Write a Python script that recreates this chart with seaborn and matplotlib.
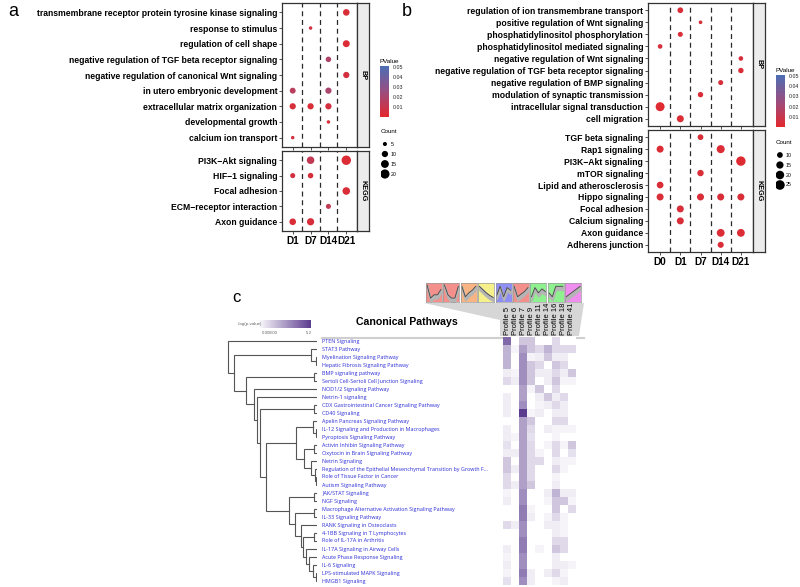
import numpy as np
import pandas as pd
import matplotlib
matplotlib.use("Agg")
import matplotlib.pyplot as plt
import seaborn as sns
from matplotlib.colors import LinearSegmentedColormap, Normalize
from matplotlib.cm import ScalarMappable
from matplotlib.patches import Polygon
from matplotlib.transforms import blended_transform_factory

# ---------------- data: panel a ----------------
a_days = ["D1", "D7", "D14", "D21"]
a_bp_terms = ["transmembrane receptor protein tyrosine kinase signaling", "response to stimulus",
              "regulation of cell shape", "negative regulation of TGF beta receptor signaling",
              "negative regulation of canonical Wnt signaling", "in utero embryonic development",
              "extracellular matrix organization", "developmental growth", "calcium ion transport"]
a_kegg_terms = ["PI3K\u2212Akt signaling", "HIF\u22121 signaling", "Focal adhesion",
                "ECM\u2212receptor interaction", "Axon guidance"]
a_term = [a_bp_terms[0], a_bp_terms[1], a_bp_terms[2], a_bp_terms[3], a_bp_terms[4],
          a_bp_terms[5], a_bp_terms[5], a_bp_terms[6], a_bp_terms[6], a_bp_terms[6],
          a_bp_terms[7], a_bp_terms[8],
          a_kegg_terms[0], a_kegg_terms[0], a_kegg_terms[1], a_kegg_terms[1], a_kegg_terms[2],
          a_kegg_terms[3], a_kegg_terms[4], a_kegg_terms[4]]
a_day = ["D21", "D7", "D21", "D14", "D21", "D1", "D14", "D1", "D7", "D14", "D14", "D1",
         "D7", "D21", "D1", "D7", "D21", "D14", "D1", "D7"]
a_count = [11, 4, 12, 8, 10, 9, 10, 10, 10, 10, 4, 4, 14, 21, 7, 8, 14, 7, 11, 13]
a_pval = [0.004, 0.006, 0.003, 0.018, 0.006, 0.015, 0.02, 0.005, 0.004, 0.006, 0.004, 0.006,
          0.012, 0.003, 0.006, 0.005, 0.004, 0.012, 0.004, 0.005]
a_count_breaks = [5, 10, 15, 20]

# ---------------- data: panel b ----------------
b_days = ["D0", "D1", "D7", "D14", "D21"]
b_bp_terms = ["regulation of ion transmembrane transport", "positive regulation of Wnt signaling",
              "phosphatidylinositol phosphorylation", "phosphatidylinositol mediated signaling",
              "negative regulation of Wnt signaling", "negative regulation of TGF beta receptor signaling",
              "negative regulation of BMP signaling", "modulation of synaptic transmission",
              "intracellular signal transduction", "cell migration"]
b_kegg_terms = ["TGF beta signaling", "Rap1 signaling", "PI3K\u2212Akt signaling", "mTOR signaling",
                "Lipid and atherosclerosis", "Hippo signaling", "Focal adhesion", "Calcium signaling",
                "Axon guidance", "Adherens junction"]
b_term = b_bp_terms + [b_kegg_terms[0], b_kegg_terms[1], b_kegg_terms[1], b_kegg_terms[2],
                       b_kegg_terms[3], b_kegg_terms[4], b_kegg_terms[5], b_kegg_terms[5],
                       b_kegg_terms[5], b_kegg_terms[5], b_kegg_terms[6], b_kegg_terms[7],
                       b_kegg_terms[8], b_kegg_terms[8], b_kegg_terms[9]]
b_day = ["D1", "D7", "D1", "D0", "D21", "D21", "D14", "D7", "D0", "D1",
         "D7", "D0", "D14", "D21", "D7", "D0", "D0", "D7", "D14", "D21", "D1", "D1", "D14", "D21", "D14"]
b_count = [10, 5, 8, 7, 7, 9, 8, 9, 22, 14,
           10, 14, 18, 24, 12, 13, 14, 14, 14, 14, 14, 14, 17, 17, 11]
b_pval = [0.004, 0.005, 0.004, 0.005, 0.005, 0.004, 0.005, 0.004, 0.002, 0.003,
          0.004, 0.003, 0.003, 0.002, 0.004, 0.004, 0.004, 0.004, 0.004, 0.004, 0.004, 0.004,
          0.003, 0.003, 0.004]
b_count_breaks = [10, 15, 20, 25]

# ---------------- data: panel c ----------------
profiles = ["Profile 5", "Profile 6", "Profile 7", "Profile 9", "Profile 11",
            "Profile 14", "Profile 16", "Profile 18", "Profile 41"]
profile_colors = ["#f4908c", "#f4908c", "#f8b583", "#f5f08a", "#8e8ef4",
                  "#f4908c", "#8ef08e", "#8ef08e", "#f08ef0"]
profile_shapes = [[1, -1, -0.5, -0.5, 0.3], [1, -0.5, -1, -1, 0.8], [0.8, -0.8, -0.2, 0.2, 0.8],
                  [0.8, 0.3, -0.2, -0.6, -0.9], [-0.6, 0.8, -0.8, 0.6, 0.2], [0.8, -0.8, -0.4, 0.0, 0.6],
                  [-0.8, 0.6, -0.2, 0.4, 0.0], [-0.2, -0.8, 0.8, 0.8, 0.8], [-0.8, -0.4, 0.0, 0.4, 0.8]]
pathways = ["PTEN Signaling", "STAT3 Pathway", "Myelination Signaling Pathway",
            "Hepatic Fibrosis Signaling Pathway", "BMP signaling pathway",
            "Sertoli Cell-Sertoli Cell Junction Signaling", "NOD1/2 Signaling Pathway",
            "Netrin-1 signaling", "CDX Gastrointestinal Cancer Signaling Pathway", "CD40 Signaling",
            "Apelin Pancreas Signaling Pathway", "IL-12 Signaling and Production in Macrophages",
            "Pyroptosis Signaling Pathway", "Activin Inhibin Signaling Pathway",
            "Oxytocin in Brain Signaling Pathway", "Netrin Signaling",
            "Regulation of the Epithelial Mesenchymal Transition by Growth F...",
            "Role of Tissue Factor in Cancer", "Autism Signaling Pathway", "JAK/STAT Signaling",
            "NGF Signaling", "Macrophage Alternative Activation Signaling Pathway",
            "IL-33 Signaling Pathway", "RANK Signaling in Osteoclasts", "4-1BB Signaling in T Lymphocytes",
            "Role of IL-17A in Arthritis", "IL-17A Signaling in Airway Cells",
            "Acute Phase Response Signaling", "IL-6 Signaling", "LPS-stimulated MAPK Signaling",
            "HMGB1 Signaling"]
logp = [
    [4.0, 0.0, 1.5, 1.5, 0.0, 0.0, 1.0, 0.0, 0.0],
    [2.0, 0.3, 2.5, 1.5, 1.0, 2.0, 1.0, 1.0, 1.0],
    [2.0, 0.0, 3.0, 0.3, 0.5, 1.5, 0.5, 0.5, 0.0],
    [2.0, 0.0, 3.0, 1.5, 1.0, 0.0, 1.5, 1.0, 0.0],
    [0.5, 0.3, 3.0, 1.5, 0.5, 0.5, 1.0, 0.5, 1.5],
    [1.0, 0.5, 3.0, 1.5, 0.0, 0.5, 1.5, 0.3, 0.3],
    [0.0, 0.0, 2.5, 0.3, 1.5, 0.0, 1.0, 0.0, 0.0],
    [0.5, 0.0, 2.5, 0.0, 0.5, 1.5, 0.5, 1.0, 0.0],
    [0.5, 0.0, 3.0, 0.0, 0.3, 0.5, 1.0, 0.5, 0.0],
    [0.5, 0.0, 5.2, 0.3, 0.5, 0.0, 0.5, 0.5, 0.0],
    [0.0, 0.0, 2.5, 1.5, 0.0, 0.0, 1.0, 1.0, 0.0],
    [0.5, 0.0, 2.5, 1.0, 0.0, 0.5, 0.3, 0.3, 0.3],
    [0.5, 0.3, 2.5, 0.8, 0.0, 0.0, 0.3, 0.0, 0.0],
    [0.8, 0.0, 2.5, 1.0, 0.0, 0.3, 1.0, 0.3, 1.5],
    [0.5, 0.5, 2.5, 1.0, 0.3, 0.0, 1.0, 0.0, 0.8],
    [1.5, 0.0, 2.5, 1.0, 1.0, 0.0, 0.5, 0.3, 0.3],
    [1.5, 0.5, 2.5, 1.0, 0.0, 0.0, 1.0, 0.3, 0.0],
    [1.0, 0.0, 2.5, 1.0, 0.0, 0.0, 0.3, 0.0, 0.0],
    [1.0, 0.5, 2.5, 1.5, 0.0, 0.0, 0.5, 0.0, 0.0],
    [0.3, 0.0, 3.0, 0.0, 0.0, 0.5, 2.0, 0.5, 0.5],
    [0.5, 0.0, 3.0, 0.0, 0.0, 0.3, 1.5, 1.5, 0.3],
    [0.0, 0.0, 3.5, 0.3, 0.0, 0.0, 1.5, 0.0, 1.0],
    [0.0, 0.0, 3.5, 0.5, 0.0, 0.3, 1.0, 0.3, 0.0],
    [1.0, 0.5, 3.0, 0.0, 0.0, 0.5, 0.5, 0.3, 0.0],
    [0.0, 0.0, 3.0, 0.0, 0.0, 0.0, 0.5, 0.3, 0.0],
    [0.0, 0.0, 3.5, 0.0, 0.0, 0.0, 1.0, 1.0, 0.0],
    [0.5, 0.0, 3.5, 0.0, 0.3, 0.0, 1.5, 1.0, 0.0],
    [0.3, 0.0, 3.0, 0.0, 0.0, 0.0, 0.5, 0.0, 0.0],
    [0.5, 0.0, 3.0, 0.0, 0.0, 0.0, 0.5, 0.5, 0.3],
    [0.3, 0.0, 3.5, 0.5, 0.0, 0.5, 1.0, 0.3, 0.0],
    [0.8, 0.0, 3.0, 0.5, 0.0, 0.0, 0.3, 0.5, 0.0],
]
# dendrogram: leaves are row indices, nodes are [height, left, right]
tree = [88.7, 0,
        [82.7, [6, 1, [1, 2, 3]],
         [71, [2.7, 4, 5],
          [62.7, 6,
           [60, 7,
            [56.7, [2.7, 8, 9],
             [50.3,
              [21, [4.3, 10, [1, 11, 12]],
               [12.7, [2.7, 13, 14], [6, 15, [1.5, 16, [0.7, 17, 18]]]]],
              [27.7, [2.7, 19, 20],
               [22, [2.7, 21, 22],
                [16, 23,
                 [14, [2.7, 24, 25],
                  [11, 26,
                   [8, 27,
                    [4.3, 28, [1, 29, 30]]]]]]]]]]]]]]]

# ---------------- figure ----------------
W, H = 800, 587
fig = plt.figure(figsize=(8, 5.87), dpi=100)
plt.rcParams["font.family"] = ["Liberation Sans", "DejaVu Sans"]


def box(x0, y0, x1, y1):
    return [x0 / W, 1 - y1 / H, (x1 - x0) / W, (y1 - y0) / H]


pcmap = LinearSegmentedColormap.from_list("pv", ["#e3282c", "#9a4d80", "#4b6fb4"])
pnorm = Normalize(0.0003, 0.0505)


def dotplot(days, bp_terms, kegg_terms, terms, pdays, counts, pvals, xl, xr, y_bp, y_kegg,
            size_norm, sizes, fs):
    df = pd.DataFrame({"term": terms, "day": pdays, "count": counts, "pvalue": pvals})
    df["x"] = [days.index(d) for d in df["day"]]
    axes = []
    for facet_terms, (y0, y1), strip in [(bp_terms, y_bp, "BP"), (kegg_terms, y_kegg, "KEGG")]:
        ax = fig.add_axes(box(xl, y0, xr, y1))
        sub = df[df["term"].isin(facet_terms)].copy()
        sub["y"] = [facet_terms.index(t) for t in sub["term"]]
        for k in range(len(days) - 1):
            ax.axvline(k + 0.5, color="#2a2a2a", ls=(0, (4, 3)), lw=0.9, zorder=1)
        sns.scatterplot(data=sub, x="x", y="y", hue="pvalue", size="count", palette=pcmap,
                        hue_norm=pnorm, sizes=sizes, size_norm=size_norm, legend=False,
                        linewidth=0, ax=ax, zorder=3)
        ax.set_xlim(-0.6, len(days) - 0.4)
        ax.set_ylim(len(facet_terms) - 0.4, -0.6)
        ax.set_yticks(range(len(facet_terms)))
        ax.set_yticklabels(facet_terms, fontweight="bold", fontsize=fs)
        ax.set_xticks(range(len(days)))
        ax.set_xticklabels([])
        ax.set_xlabel("")
        ax.set_ylabel("")
        ax.tick_params(length=2, width=0.6, pad=1.5, colors="#333333", labelcolor="black")
        for s in ax.spines.values():
            s.set_color("#333333")
            s.set_linewidth(0.9)
        sax = fig.add_axes(box(xr, y0, xr + 12, y1))
        sax.set_facecolor("#ececec")
        sax.set_xticks([])
        sax.set_yticks([])
        for s in sax.spines.values():
            s.set_color("#333333")
            s.set_linewidth(0.9)
        sax.text(0.5, 0.5, strip, rotation=-90, ha="center", va="center", fontsize=5.2,
                 fontweight="bold", transform=sax.transAxes)
        axes.append(ax)
    axes[-1].set_xticklabels(days, fontweight="bold", fontsize=7.2)
    return axes


def pvalue_legend(x, y0, y1):
    cax = fig.add_axes(box(x, y0, x + 9, y1))
    cb = fig.colorbar(ScalarMappable(norm=pnorm, cmap=pcmap), cax=cax)
    cb.set_ticks([0.01, 0.02, 0.03, 0.04, 0.05])
    cb.ax.tick_params(labelsize=3.8, length=1.5, width=0.5, pad=1, colors="white", labelcolor="#222222")
    cb.outline.set_visible(False)
    cax.text(0, 1.04, "PValue", transform=cax.transAxes, fontsize=4.5, va="bottom")


def count_legend(breaks, x, y0, y1, size_norm, sizes):
    lax = fig.add_axes(box(x, y0, x + 30, y1))
    ldf = pd.DataFrame({"x": [0] * len(breaks), "y": range(len(breaks)), "count": breaks})
    sns.scatterplot(data=ldf, x="x", y="y", size="count", sizes=sizes, size_norm=size_norm,
                    color="black", linewidth=0, legend=False, ax=lax)
    for i, b in enumerate(breaks):
        lax.text(0.9, i, str(b), fontsize=3.8, va="center")
    lax.set_xlim(-0.6, 4)
    lax.set_ylim(len(breaks) - 0.5, -1.6)
    lax.text(-0.6, -1.5, "Count", fontsize=4.5, va="top")
    lax.axis("off")


# panel a
a_sizes, a_norm = (6.3, 46), (4, 21)
dotplot(a_days, a_bp_terms, a_kegg_terms, a_term, a_day, a_count, a_pval,
        282, 357, (3, 147), (151, 231), a_norm, a_sizes, 6.2)
pvalue_legend(380, 66, 117)
count_legend(a_count_breaks, 381, 128, 179, a_norm, a_sizes)
fig.text(8 / W, 1 - 16 / H, "a", fontsize=13)

# panel b
b_sizes, b_norm = (7, 52), (5, 27)
dotplot(b_days, b_bp_terms, b_kegg_terms, b_term, b_day, b_count, b_pval,
        648, 753, (3, 126), (130, 252), b_norm, b_sizes, 6.2)
pvalue_legend(776, 75, 127)
count_legend(b_count_breaks, 776, 139, 190, b_norm, b_sizes)
fig.text(402 / W, 1 - 16 / H, "b", fontsize=13)

# panel c
fig.text(232 / W, 1 - 302 / H, "c", fontsize=12)
hcmap = LinearSegmentedColormap.from_list("lp", ["#ffffff", "#5b3b8e"])
hx0, hx1, hy0, hy1 = 503, 576, 337, 585
hax = fig.add_axes(box(hx0, hy0, hx1, hy1))
hdf = pd.DataFrame(logp, index=pathways, columns=profiles)
sns.heatmap(hdf, cmap=hcmap, vmin=0, vmax=5.2, cbar=False, ax=hax)
hax.set_yticks([])
hax.set_ylabel("")
hax.xaxis.tick_top()
hax.set_xticks(np.arange(len(profiles)) + 0.5)
hax.set_xticklabels(profiles, rotation=90, fontsize=5.5)
hax.tick_params(axis="x", length=0, pad=1.5)
tr = blended_transform_factory(hax.transAxes, hax.transData)
for i, p in enumerate(pathways):
    hax.text((322 - hx0) / (hx1 - hx0), i + 0.5, p, transform=tr, fontsize=3.9,
             color="#2b2bd6", va="center", ha="left", family=["Open Sans", "DejaVu Sans"])

# gray funnel and title line
fax = fig.add_axes([0, 0, 1, 1], zorder=-1)
fax.set_xlim(0, W)
fax.set_ylim(H, 0)
fax.axis("off")
fax.add_patch(Polygon([(424, 303), (584, 303), (579, 336), (500, 336), (500, 320)],
                      closed=True, facecolor="#d6d6d6", edgecolor="none"))
fax.plot([322, 584], [338, 338], color="#cfcfcf", lw=1.5)
fig.text(407 / W, 1 - 322 / H, "Canonical Pathways", fontsize=7.6, fontweight="bold",
         ha="center", va="center")

# profile thumbnails
for i, (col, shp) in enumerate(zip(profile_colors, profile_shapes)):
    x0 = 426 + i * 17.4
    tax = fig.add_axes(box(x0, 283, x0 + 16, 302))
    tax.set_facecolor(col)
    t = np.arange(len(shp))
    tax.fill_between(t, shp, np.array(shp) - 0.55, color="#b5b5b5")
    sns.lineplot(x=t, y=shp, color="#444444", lw=0.6, ax=tax)
    tax.set_xlim(-0.3, len(shp) - 0.7)
    tax.set_ylim(-1.6, 1.3)
    tax.set_xticks([])
    tax.set_yticks([])
    for s in tax.spines.values():
        s.set_color("#999999")
        s.set_linewidth(0.5)

# dendrogram
dax = fig.add_axes(box(227, hy0, 317, hy1))


def draw(node):
    if isinstance(node, int):
        return node + 0.5, 0.0
    h, left, right = node
    yl, hl = draw(left)
    yr, hr = draw(right)
    dax.plot([hl, h, h, hr], [yl, yl, yr, yr], color="#555555", lw=0.8, solid_joinstyle="miter")
    return (yl + yr) / 2, h


draw(tree)
dax.set_xlim(89.5, 0)
dax.set_ylim(len(pathways), 0)
dax.axis("off")

# -log(p-value) colorbar
cax2 = fig.add_axes(box(258, 320, 311, 328))
fig.colorbar(ScalarMappable(norm=Normalize(0, 5.2), cmap=hcmap), cax=cax2, orientation="horizontal")
cax2.set_xticks([])
cax2.spines[:].set_visible(False)
fig.text(262 / W, 1 - 324 / H, "-log(p-value)", fontsize=3.2, color="#666666", ha="right", va="center")
fig.text(270 / W, 1 - 333 / H, "0.00E00", fontsize=3.2, color="#666666", ha="center", va="center")
fig.text(309 / W, 1 - 333 / H, "5.2", fontsize=3.2, color="#666666", ha="center", va="center")

fig.savefig("out.png", dpi=100)
